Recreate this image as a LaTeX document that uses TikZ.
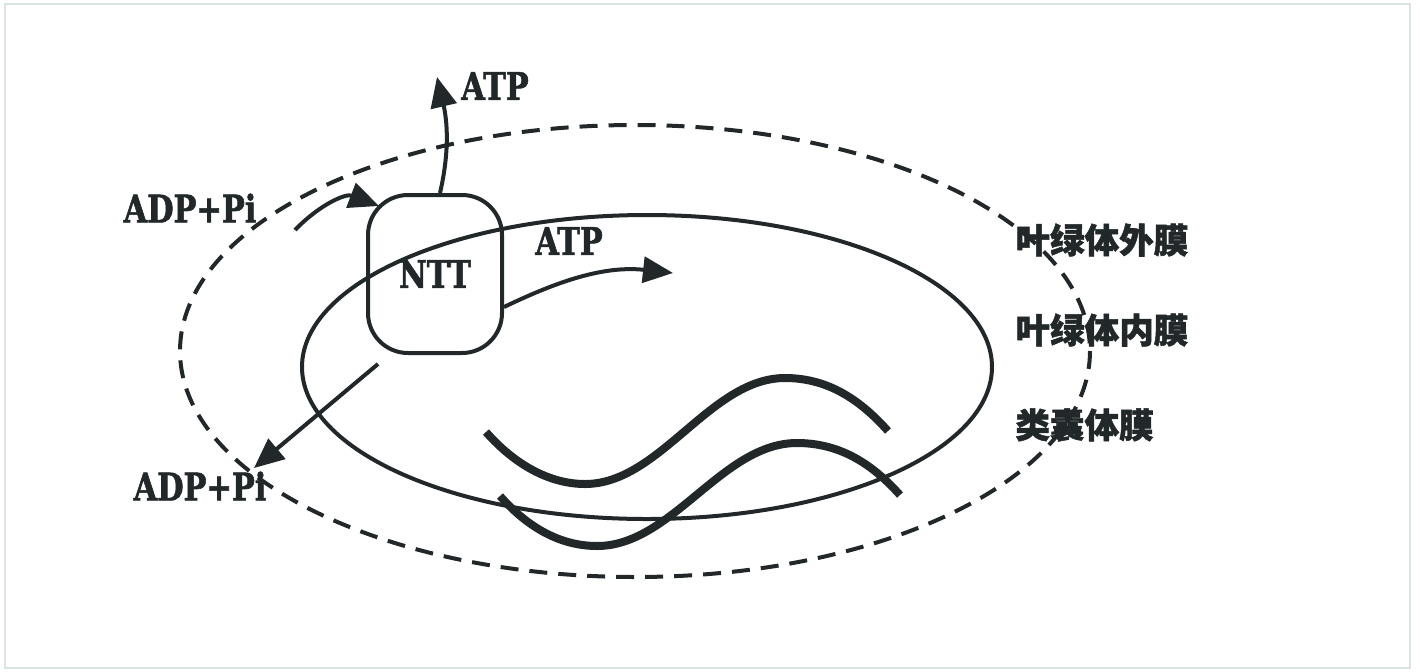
\documentclass[tikz,border=0pt]{standalone}
\usepackage{fontspec}
\usetikzlibrary{arrows.meta}
\newfontfamily\lat{DejaVu Serif Bold}[FakeStretch=0.8, FakeBold=1.5]
\newfontfamily\cjk{Noto Sans CJK SC Black}[FakeBold=1.5]
\definecolor{inkc}{RGB}{34,40,42}
\definecolor{borderc}{RGB}{220,228,225}
\begin{document}
\begin{tikzpicture}[x=0.5pt,y=-0.5pt,
  outermem/.style={draw=inkc, line width=2pt, dash pattern=on 9pt off 5.5pt},
  innermem/.style={draw=inkc, line width=2pt},
  thyl/.style={draw=inkc, line width=4pt},
  flow/.style={draw=inkc, line width=2pt, -{Triangle[length=15pt,width=13pt]}},
  lbl/.style={text=inkc, font=\lat\fontsize{19}{22}\selectfont, inner sep=0pt},
  clbl/.style={text=inkc, font=\cjk\fontsize{17.3}{20}\selectfont, inner sep=0pt, anchor=west},
  ntbox/.style={draw=inkc, line width=2pt, rounded corners=20pt, minimum width=67pt, minimum height=79pt, inner sep=0pt}]
\useasboundingbox (0,0) rectangle (1420,671);
\draw[draw=borderc, line width=1pt] (5,4) rectangle (1410,668);
% membranes
\draw[outermem] (635,351) ellipse [x radius=455, y radius=226];
\draw[innermem] (647,367) ellipse [x radius=345, y radius=152];
% thylakoids
\draw[thyl] (486,432) .. controls (515,465) and (550,484) .. (585,484) .. controls (660,484) and (710,378) .. (785,378) .. controls (830,378) and (862,402) .. (888,431);
\draw[thyl] (500,496) .. controls (529,529) and (562,546) .. (597,546) .. controls (672,546) and (722,443) .. (797,443) .. controls (842,443) and (874,466) .. (900,495);
% NTT
\node[ntbox, lbl] (NTT) at (435,274) {NTT};
% labels
\node[lbl] (atp1) at (495,86) {ATP};
\node[lbl] (atp2) at (569,241) {ATP};
\node[lbl] (adp1) at (190,208) {ADP+Pi};
\node[lbl] (adp2) at (200,486) {ADP+Pi};
\node[clbl] (om) at (1015,240) {叶绿体外膜};
\node[clbl] (im) at (1015,330) {叶绿体内膜};
\node[clbl] (tm) at (1015,425) {类囊体膜};
% arrows
\coordinate (a1s) at (295,230);
\coordinate (a1e) at (379,206);
\coordinate (a2e) at (437,77);
\coordinate (a3e) at (673,273);
\coordinate (a4s) at (378,364);
\coordinate (a4e) at (254,468);
\draw[flow] (a1s) .. controls (318,206) and (345,193) .. (a1e);
\draw[flow] ([xshift=2.5pt]NTT.north) .. controls (450,150) and (447,120) .. (a2e);
\draw[flow] ([yshift=-16.5pt]NTT.east) .. controls (550,285) and (600,265) .. (a3e);
\draw[flow] (a4s) -- (a4e);
\end{tikzpicture}
\end{document}
